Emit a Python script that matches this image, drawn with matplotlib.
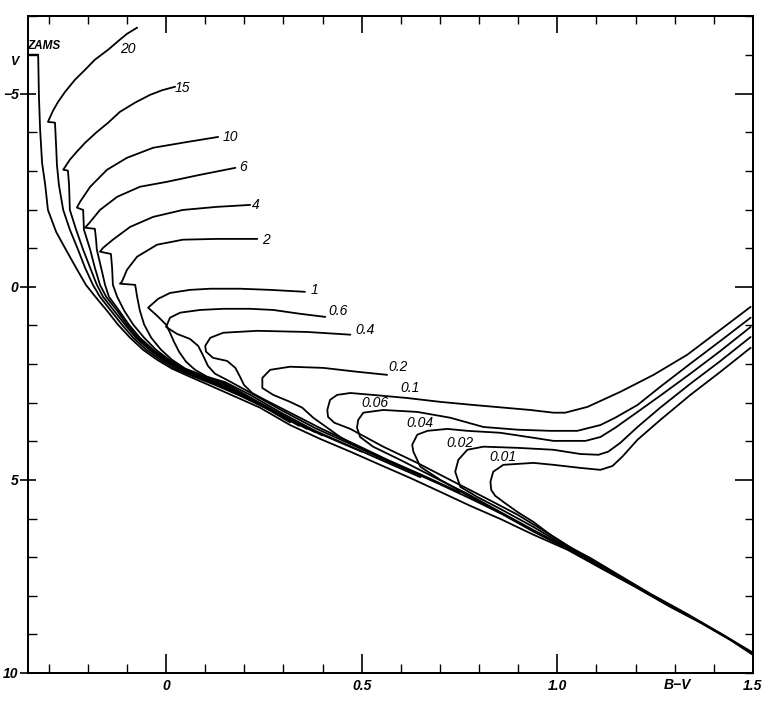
import matplotlib
matplotlib.use("Agg")
import matplotlib.pyplot as plt
from matplotlib.ticker import MultipleLocator

plt.rcParams['font.family'] = ['Liberation Sans', 'DejaVu Sans']

# zero-age main sequence (B-V, V)
zams_bv = [-0.353, -0.327, -0.325, -0.322, -0.317, -0.309, -0.302, -0.281, -0.256, -0.230,
           -0.205, -0.179, -0.151, -0.123, -0.092, -0.059, -0.023, 0.015, 0.061, 0.113,
           0.171, 0.240, 0.317, 0.394, 0.471, 0.547, 0.624, 0.701, 0.777, 0.854,
           0.939, 1.026, 1.110, 1.199, 1.289, 1.366, 1.443, 1.500]
zams_v = [-6.01, -6.01, -4.92, -4.07, -3.21, -2.64, -1.99, -1.42, -0.96, -0.49,
          -0.05, 0.28, 0.62, 0.98, 1.32, 1.63, 1.89, 2.12, 2.33, 2.56,
          2.82, 3.13, 3.58, 3.94, 4.27, 4.61, 4.95, 5.31, 5.67, 6.01,
          6.42, 6.81, 7.28, 7.77, 8.29, 8.70, 9.15, 9.53]

# isochrones
iso20_bv = [-0.074, -0.100, -0.118, -0.148, -0.182, -0.207, -0.233, -0.258, -0.276, -0.289, -0.302,
            -0.284, -0.281, -0.279, -0.274, -0.263, -0.246, -0.225, -0.207, -0.187, -0.169,
            -0.141, -0.113, -0.084, -0.051, -0.015, 0.023, 0.072, 0.125, 0.189, 0.253, 0.317]
iso20_v = [-6.71, -6.55, -6.40, -6.14, -5.88, -5.62, -5.36, -5.05, -4.79, -4.56, -4.27,
           -4.25, -3.63, -3.16, -2.64, -1.99, -1.48, -0.96, -0.49, -0.05, 0.26,
           0.62, 0.98, 1.32, 1.63, 1.89, 2.12, 2.33, 2.54, 2.82, 3.13, 3.51]

iso15_bv = [0.023, -0.010, -0.041, -0.079, -0.118, -0.148, -0.179, -0.207, -0.228, -0.246, -0.263,
            -0.251, -0.248, -0.246, -0.230, -0.212, -0.194, -0.177, -0.161, -0.133, -0.105,
            -0.077, -0.043, -0.008, 0.031, 0.079, 0.133, 0.202, 0.271, 0.340]
iso15_v = [-5.18, -5.09, -4.97, -4.77, -4.53, -4.25, -3.99, -3.73, -3.50, -3.29, -3.03,
           -3.01, -2.64, -1.99, -1.48, -0.96, -0.49, -0.05, 0.26, 0.62, 0.98,
           1.32, 1.63, 1.89, 2.12, 2.33, 2.55, 2.87, 3.22, 3.60]

iso10_bv = [0.133, 0.054, -0.033, -0.100, -0.151, -0.194, -0.220, -0.228, -0.212, -0.210,
            -0.194, -0.182, -0.169, -0.153, -0.125, -0.100, -0.072, -0.038, -0.003, 0.036,
            0.084, 0.138, 0.210, 0.287, 0.360]
iso10_v = [-3.88, -3.75, -3.60, -3.34, -3.03, -2.59, -2.20, -2.05, -1.99, -1.48,
           -0.96, -0.49, -0.05, 0.26, 0.62, 0.98, 1.32, 1.63, 1.89, 2.12,
           2.33, 2.54, 2.90, 3.30, 3.68]

iso6_bv = [0.177, 0.087, 0.003, -0.067, -0.125, -0.169, -0.194, -0.207, -0.182, -0.179,
           -0.177, -0.166, -0.156, -0.146, -0.120, -0.095, -0.067, -0.033, 0.003, 0.041,
           0.090, 0.143, 0.220, 0.304, 0.380]
iso6_v = [-3.08, -2.90, -2.72, -2.59, -2.33, -1.99, -1.68, -1.53, -1.50, -1.22,
          -0.96, -0.49, -0.05, 0.26, 0.62, 0.98, 1.32, 1.63, 1.89, 2.12,
          2.33, 2.53, 2.93, 3.38, 3.76]

iso4_bv = [0.215, 0.130, 0.043, -0.033, -0.092, -0.136, -0.161, -0.169, -0.141, -0.138,
           -0.136, -0.125, -0.107, -0.084, -0.056, -0.026, 0.008, 0.046, 0.095, 0.148,
           0.228, 0.317, 0.400]
iso4_v = [-2.12, -2.07, -1.99, -1.81, -1.55, -1.22, -1.01, -0.91, -0.85, -0.49,
          -0.05, 0.26, 0.62, 0.98, 1.32, 1.63, 1.89, 2.12, 2.33, 2.52,
          2.96, 3.45, 3.85]

iso2_bv = [0.233, 0.130, 0.043, -0.023, -0.074, -0.100, -0.113, -0.118, -0.079, -0.074,
           -0.067, -0.056, -0.038, -0.013, 0.015, 0.049, 0.095, 0.150, 0.230, 0.320,
           0.410, 0.500]
iso2_v = [-1.24, -1.24, -1.22, -1.09, -0.78, -0.44, -0.13, -0.08, -0.05, 0.26,
          0.62, 0.98, 1.32, 1.63, 1.89, 2.12, 2.30, 2.50, 2.95, 3.45,
          3.88, 4.27]

iso1_bv = [0.355, 0.266, 0.189, 0.113, 0.061, 0.010, -0.020, -0.046, -0.023, 0.000,
           0.010, 0.020, 0.033, 0.051, 0.074, 0.105, 0.151, 0.215, 0.292, 0.381,
           0.471, 0.560, 0.650]
iso1_v = [0.13, 0.08, 0.05, 0.05, 0.08, 0.16, 0.31, 0.54, 0.75, 0.98,
          1.19, 1.42, 1.68, 1.94, 2.15, 2.33, 2.47, 2.80, 3.25, 3.73,
          4.13, 4.53, 4.93]

iso06_bv = [0.407, 0.343, 0.274, 0.215, 0.146, 0.087, 0.036, 0.010, 0.000, 0.028,
            0.061, 0.082, 0.095, 0.107, 0.125, 0.159, 0.215, 0.292, 0.381, 0.471,
            0.560, 0.650]
iso06_v = [0.78, 0.70, 0.60, 0.57, 0.57, 0.60, 0.67, 0.80, 1.04, 1.22,
           1.35, 1.53, 1.79, 2.05, 2.25, 2.43, 2.74, 3.18, 3.66, 4.07,
           4.47, 4.87]

iso04_bv = [0.471, 0.361, 0.233, 0.146, 0.113, 0.100, 0.102, 0.120, 0.156, 0.177,
            0.189, 0.199, 0.220, 0.253, 0.317, 0.394, 0.483, 0.570, 0.660, 0.750]
iso04_v = [1.24, 1.17, 1.14, 1.19, 1.32, 1.53, 1.68, 1.84, 1.92, 2.10,
           2.33, 2.54, 2.75, 2.93, 3.26, 3.66, 4.08, 4.50, 4.90, 5.32]

iso02_bv = [0.565, 0.488, 0.402, 0.317, 0.266, 0.246, 0.246, 0.274, 0.317, 0.348,
            0.376, 0.412, 0.445, 0.488, 0.547, 0.624, 0.701, 0.777, 0.854]
iso02_v = [2.28, 2.20, 2.10, 2.07, 2.15, 2.36, 2.62, 2.80, 2.98, 3.13,
           3.39, 3.65, 3.89, 4.14, 4.43, 4.77, 5.12, 5.48, 5.86]

iso01_bv = [1.494, 1.417, 1.332, 1.246, 1.161, 1.077, 1.020, 0.990, 0.931, 0.785,
            0.701, 0.616, 0.529, 0.471, 0.437, 0.419, 0.412, 0.414, 0.430, 0.471,
            0.555, 0.642, 0.726, 0.811, 0.898, 0.982, 1.066, 1.150, 1.240, 1.330,
            1.420, 1.501]
iso01_v = [0.52, 1.11, 1.76, 2.28, 2.72, 3.11, 3.26, 3.26, 3.19, 3.06,
           2.98, 2.88, 2.80, 2.75, 2.80, 2.93, 3.19, 3.37, 3.52, 3.68,
           4.14, 4.56, 5.00, 5.44, 5.90, 6.42, 6.95, 7.45, 7.98, 8.48,
           9.00, 9.50]

iso006_bv = [1.494, 1.417, 1.340, 1.263, 1.205, 1.148, 1.110, 1.051, 0.982, 0.898,
             0.811, 0.726, 0.642, 0.555, 0.504, 0.491, 0.488, 0.496, 0.529, 0.598,
             0.683, 0.770, 0.854, 0.939, 1.026, 1.110]
iso006_v = [0.80, 1.40, 1.99, 2.59, 3.06, 3.39, 3.58, 3.73, 3.73, 3.70,
            3.63, 3.39, 3.24, 3.19, 3.26, 3.45, 3.65, 3.89, 4.14, 4.48,
            4.92, 5.36, 5.83, 6.30, 6.76, 7.24]

iso004_bv = [1.494, 1.417, 1.340, 1.263, 1.205, 1.148, 1.110, 1.072, 0.990, 0.939,
             0.854, 0.770, 0.719, 0.668, 0.642, 0.629, 0.632, 0.650, 0.701, 0.770,
             0.854, 0.939, 1.026, 1.110, 1.199, 1.289, 1.366, 1.443, 1.501]
iso004_v = [1.04, 1.66, 2.25, 2.82, 3.24, 3.65, 3.89, 3.99, 3.99, 3.91,
            3.78, 3.73, 3.68, 3.73, 3.83, 4.09, 4.27, 4.66, 5.00, 5.40,
            5.86, 6.34, 6.79, 7.26, 7.76, 8.28, 8.69, 9.14, 9.53]

iso002_bv = [1.494, 1.417, 1.340, 1.263, 1.205, 1.161, 1.130, 1.105, 1.059, 0.990,
             0.898, 0.811, 0.770, 0.747, 0.739, 0.752, 0.795, 0.854, 0.939, 1.026,
             1.110]
iso002_v = [1.30, 1.92, 2.51, 3.13, 3.63, 4.04, 4.27, 4.35, 4.33, 4.22,
            4.17, 4.14, 4.22, 4.48, 4.79, 5.18, 5.44, 5.75, 6.22, 6.74,
            7.24]

iso001_bv = [1.494, 1.417, 1.340, 1.263, 1.205, 1.166, 1.141, 1.110, 1.059, 0.990,
             0.939, 0.862, 0.836, 0.829, 0.831, 0.841, 0.862, 0.898, 0.939, 0.982,
             1.026, 1.084, 1.150, 1.240, 1.330, 1.420, 1.501]
iso001_v = [1.58, 2.20, 2.80, 3.45, 3.96, 4.40, 4.64, 4.74, 4.69, 4.61,
            4.56, 4.61, 4.79, 5.05, 5.26, 5.41, 5.57, 5.83, 6.09, 6.42,
            6.71, 7.02, 7.42, 7.96, 8.46, 8.99, 9.48]

# curve labels and where they sit
iso_labels = ["20", "15", "10", "6", "4", "2", "1", "0.6", "0.4", "0.2",
              "0.1", "0.06", "0.04", "0.02", "0.01"]
label_bv = [-0.097, 0.041, 0.164, 0.197, 0.230, 0.256, 0.379, 0.440, 0.509, 0.593,
            0.624, 0.535, 0.650, 0.752, 0.862]
label_v = [-6.17, -5.16, -3.89, -3.11, -2.12, -1.22, 0.08, 0.62, 1.11, 2.07,
           2.62, 3.01, 3.52, 4.04, 4.40]

curves = [(zams_bv, zams_v), (iso20_bv, iso20_v), (iso15_bv, iso15_v), (iso10_bv, iso10_v),
          (iso6_bv, iso6_v), (iso4_bv, iso4_v), (iso2_bv, iso2_v), (iso1_bv, iso1_v),
          (iso06_bv, iso06_v), (iso04_bv, iso04_v), (iso02_bv, iso02_v), (iso01_bv, iso01_v),
          (iso006_bv, iso006_v), (iso004_bv, iso004_v), (iso002_bv, iso002_v),
          (iso001_bv, iso001_v)]

fig = plt.figure(figsize=(7.71, 7.03), dpi=100)
ax = fig.add_axes([0.0363, 0.0427, 0.9403, 0.9339])

for bv, v in curves:
    ax.plot(bv, v, color="black", lw=1.3, solid_joinstyle="round", solid_capstyle="round")

for lab, x, y in zip(iso_labels, label_bv, label_v):
    ax.text(x, y, lab, ha="center", va="center", fontsize=10, fontstyle="italic")

ax.text(-0.312, -6.24, "ZAMS", ha="center", va="center", fontsize=8.5,
        fontstyle="italic", fontweight="bold")
ax.text(-0.386, -5.83, "V", ha="center", va="center", fontsize=9,
        fontstyle="italic", fontweight="bold", clip_on=False)
ax.text(1.307, 10.13, "B\u2212V", ha="center", va="top", fontsize=10,
        fontstyle="italic", fontweight="bold", clip_on=False)

xlim = (-0.353, 1.5)
ylim = (10, -7)
ax.set_xlim(xlim)
ax.set_ylim(ylim)

ax.set_xticks([0, 0.5, 1.0, 1.5], labels=["0", "0.5", "1.0", "1.5"],
              fontsize=10, fontstyle="italic", fontweight="bold")
ax.set_yticks([-5, 0, 5, 10], labels=["\u22125", "0", "5", "10"],
              fontsize=10, fontstyle="italic", fontweight="bold")
ax.xaxis.set_minor_locator(MultipleLocator(0.1))
ax.yaxis.set_minor_locator(MultipleLocator(1))
ax.tick_params(axis="x", which="major", direction="in", length=13.5, width=1.2, pad=4)
ax.tick_params(axis="x", which="minor", direction="in", length=6.5, width=1.0)
ax.tick_params(axis="y", which="major", direction="inout", length=11.5, width=1.2, pad=1)
ax.tick_params(axis="y", which="minor", direction="in", length=6.5, width=1.0)

# right and top ticks
axr = ax.twinx()
axr.set_ylim(ylim)
axr.set_yticks([-5, 0, 5])
axr.yaxis.set_minor_locator(MultipleLocator(1))
axr.tick_params(which="major", direction="in", length=13, width=1.2, labelright=False)
axr.tick_params(which="minor", direction="in", length=6, width=1.0)

axt = ax.twiny()
axt.set_xlim(xlim)
axt.set_xticks([0, 0.5, 1.0, 1.5])
axt.xaxis.set_minor_locator(MultipleLocator(0.1))
axt.tick_params(which="major", direction="in", length=12, width=1.2, labeltop=False)
axt.tick_params(which="minor", direction="in", length=6, width=1.0)

for a in (ax, axr, axt):
    for s in a.spines.values():
        s.set_linewidth(1.2)

fig.savefig("out.png", dpi=100)
